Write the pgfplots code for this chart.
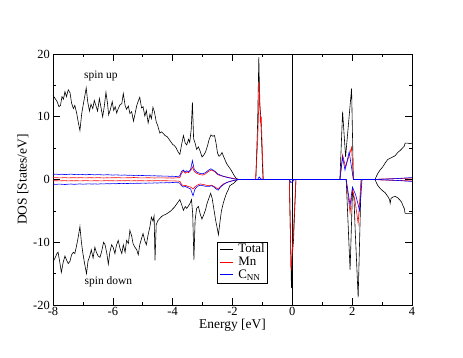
\documentclass[border=0pt]{standalone}
\usepackage{pgfplots}
\pgfplotsset{compat=1.18}
\usepackage{fontspec}
\setmainfont{Liberation Serif}

\begin{document}
\begin{tikzpicture}
\path[use as bounding box] (-53bp,-53bp) rectangle (410bp,305bp);
\begin{axis}[
    at={(0,0)}, anchor=south west,
    scale only axis,
    width=359bp, height=251bp,
    xmin=-8, xmax=4, ymin=-20, ymax=20,
    xtick={-8,-6,...,4}, ytick={-20,-10,...,20},
    minor xtick={-7,-5,...,3}, minor ytick={-15,-5,5,15},
    tick align=inside,
    major tick length=7bp, minor tick length=3.5bp,
    axis line style={line width=0.8pt},
    every tick/.style={black, line width=0.6pt},
    /pgf/number format/assume math mode=true,
    tick label style={font=\fontsize{12.5}{14}\selectfont},
    xticklabel style={inner xsep=1pt, inner ysep=0.5pt, yshift=-1.5pt},
    yticklabel style={inner sep=1pt, xshift=-2pt},
    xlabel={Energy [eV]},
    ylabel={DOS [States/eV]},
    label style={font=\fontsize{13.5}{15}\selectfont},
    xlabel style={at={(axis description cs:0.5,-0.08)}, anchor=center},
    ylabel style={at={(axis description cs:-0.084,0.5)}, anchor=center},
    every axis plot/.append style={line width=0.6pt},
    clip=true,
]
% Fermi level
\addplot[black] coordinates {(0,-20) (0,20)};

% Total, spin up
\addplot[black] coordinates {
(-8.00,13.4) (-7.93,12.9) (-7.87,12.5) (-7.80,11.6) (-7.75,11.8) (-7.70,13.2)
(-7.65,12.8) (-7.60,14.0) (-7.55,13.2) (-7.49,14.3) (-7.43,13.8) (-7.38,12.2)
(-7.32,11.3) (-7.27,11.8) (-7.21,10.6) (-7.15,9.0) (-7.10,7.8) (-7.04,10.5)
(-6.99,11.9) (-6.93,13.5) (-6.89,14.6) (-6.84,12.4) (-6.78,10.9) (-6.73,12.0)
(-6.67,11.3) (-6.62,12.6) (-6.56,11.7) (-6.51,10.9) (-6.45,12.9) (-6.40,11.6)
(-6.34,10.0) (-6.29,11.5) (-6.23,13.9) (-6.18,12.2) (-6.14,10.3) (-6.08,11.2)
(-6.02,12.4) (-5.97,11.0) (-5.92,11.6) (-5.87,10.6) (-5.82,11.3) (-5.76,11.9)
(-5.70,12.1) (-5.65,13.7) (-5.59,11.8) (-5.54,11.2) (-5.48,11.7) (-5.43,10.5)
(-5.37,10.8) (-5.31,9.3) (-5.26,10.4) (-5.20,11.8) (-5.15,12.5) (-5.10,13.1)
(-5.04,11.4) (-4.99,11.6) (-4.93,10.1) (-4.88,11.0) (-4.82,9.0) (-4.76,10.4)
(-4.71,9.7) (-4.66,11.5) (-4.61,10.8) (-4.55,9.2) (-4.50,8.6) (-4.43,7.4)
(-4.37,7.6) (-4.31,7.3) (-4.25,7.0) (-4.18,6.8) (-4.12,6.4) (-4.06,6.0)
(-4.00,5.6) (-3.94,5.4) (-3.88,5.0) (-3.82,4.4) (-3.76,4.0) (-3.70,5.6)
(-3.64,7.0) (-3.58,5.8) (-3.53,5.5) (-3.47,6.4) (-3.43,5.9) (-3.38,8.0)
(-3.34,12.3) (-3.30,6.5) (-3.25,5.8) (-3.20,4.8) (-3.14,5.2) (-3.08,4.5)
(-3.02,3.6) (-2.96,3.9) (-2.90,4.4) (-2.84,5.3) (-2.78,6.4) (-2.72,7.1)
(-2.66,6.9) (-2.60,7.0) (-2.55,5.8) (-2.50,4.2) (-2.45,3.7) (-2.40,3.9)
(-2.35,4.3) (-2.30,3.7) (-2.24,3.0) (-2.18,2.4) (-2.12,2.0) (-2.06,1.6)
(-2.00,1.1) (-1.94,0.6) (-1.88,0.2) (-1.82,0.05) (-1.76,0) (-1.22,0)
(-1.16,9.0) (-1.12,19.5) (-1.09,12.0) (-1.06,10.3) (-0.98,0) (1.59,0)
(1.68,10.8) (1.78,3.6) (1.98,14.5) (2.04,0) (2.76,0) (2.85,0.9)
(2.93,1.5) (3.02,2.0) (3.10,2.6) (3.19,3.2) (3.28,3.4) (3.36,3.6)
(3.44,3.8) (3.52,4.3) (3.60,4.6) (3.68,5.0) (3.74,5.3) (3.77,5.8)
(3.85,5.8) (3.93,5.7) (4.00,5.8)
};
% Total, spin down
\addplot[black] coordinates {
(-8.00,-13.1) (-7.93,-12.5) (-7.87,-11.8) (-7.83,-11.6) (-7.78,-13.0) (-7.72,-14.8)
(-7.66,-13.2) (-7.60,-12.2) (-7.55,-12.8) (-7.49,-13.4) (-7.43,-13.0) (-7.38,-12.0)
(-7.32,-11.6) (-7.27,-11.8) (-7.21,-10.5) (-7.15,-9.0) (-7.10,-7.5) (-7.05,-10.0)
(-7.00,-11.8) (-6.94,-13.5) (-6.88,-15.0) (-6.83,-13.0) (-6.77,-12.2) (-6.72,-11.2)
(-6.66,-12.5) (-6.60,-10.8) (-6.55,-11.6) (-6.49,-12.2) (-6.43,-12.4) (-6.37,-11.4)
(-6.31,-10.0) (-6.26,-10.4) (-6.20,-11.8) (-6.15,-13.5) (-6.10,-11.6) (-6.04,-10.4)
(-5.99,-10.8) (-5.93,-11.8) (-5.88,-10.5) (-5.82,-9.7) (-5.76,-11.0) (-5.70,-11.8)
(-5.65,-10.4) (-5.59,-11.6) (-5.54,-9.7) (-5.48,-10.2) (-5.43,-8.1) (-5.37,-9.0)
(-5.32,-10.3) (-5.26,-10.8) (-5.20,-11.2) (-5.15,-12.0) (-5.10,-10.4) (-5.04,-9.4)
(-4.99,-8.6) (-4.93,-9.8) (-4.88,-10.4) (-4.82,-8.8) (-4.76,-7.5) (-4.71,-6.0)
(-4.66,-6.6) (-4.62,-5.8) (-4.59,-12.9) (-4.55,-7.2) (-4.50,-6.6) (-4.43,-6.2)
(-4.37,-5.9) (-4.31,-5.7) (-4.25,-5.6) (-4.18,-5.4) (-4.12,-5.2) (-4.06,-5.0)
(-4.00,-4.7) (-3.94,-4.4) (-3.88,-4.0) (-3.82,-3.6) (-3.76,-3.2) (-3.70,-4.0)
(-3.64,-4.9) (-3.58,-4.3) (-3.53,-4.6) (-3.47,-4.2) (-3.42,-3.8) (-3.37,-3.2)
(-3.33,-5.5) (-3.29,-12.8) (-3.25,-6.5) (-3.20,-4.6) (-3.14,-4.3) (-3.08,-5.5)
(-3.02,-6.3) (-2.96,-5.6) (-2.90,-4.8) (-2.85,-3.8) (-2.79,-3.0) (-2.73,-2.2)
(-2.68,-3.0) (-2.62,-4.8) (-2.56,-6.6) (-2.51,-7.8) (-2.47,-8.8) (-2.42,-6.8)
(-2.37,-5.0) (-2.31,-3.8) (-2.26,-3.0) (-2.20,-2.2) (-2.14,-1.6) (-2.09,-1.0)
(-2.03,-0.8) (-1.96,-0.6) (-1.90,-0.3) (-1.84,-0.05) (-1.78,0) (-0.10,0)
(-0.03,-17.3) (0.00,-12.0) (0.04,-9.6) (0.12,0) (1.80,0) (1.93,-14.4)
(2.01,-2.0) (2.06,-3.0) (2.10,-8.0) (2.20,-18.8) (2.30,0) (2.76,0)
(2.85,-0.9) (2.93,-1.4) (3.02,-1.8) (3.10,-2.1) (3.19,-2.7) (3.25,-3.2)
(3.27,-3.8) (3.30,-3.0) (3.36,-2.8) (3.44,-2.7) (3.52,-2.9) (3.60,-3.3)
(3.65,-3.6) (3.70,-4.2) (3.74,-4.6) (3.77,-5.4) (3.85,-5.4) (4.00,-5.4)
};

% Mn, spin up
\addplot[red] coordinates {
(-8.0,0.28) (-7.9,0.30) (-7.8,0.26) (-7.7,0.27) (-7.6,0.31) (-7.5,0.25)
(-7.4,0.28) (-7.3,0.29) (-7.2,0.26) (-7.1,0.30) (-7.0,0.27) (-6.9,0.25)
(-6.8,0.29) (-6.7,0.28) (-6.6,0.26) (-6.5,0.30) (-6.4,0.27) (-6.3,0.24)
(-6.2,0.28) (-6.1,0.26) (-6.0,0.29) (-5.9,0.27) (-5.8,0.30) (-5.7,0.25)
(-5.6,0.26) (-5.5,0.28) (-5.4,0.27) (-5.3,0.32) (-5.2,0.29) (-5.1,0.26)
(-5.0,0.25) (-4.9,0.27) (-4.8,0.28) (-4.7,0.26) (-4.6,0.24) (-4.5,0.27)
(-4.4,0.25) (-4.3,0.26) (-4.2,0.24) (-4.1,0.25) (-4.0,0.23) (-3.9,0.26)
(-3.8,0.28) (-3.76,0.3) (-3.70,1.0) (-3.64,1.4) (-3.58,1.0) (-3.53,1.2)
(-3.47,1.1) (-3.40,1.4) (-3.34,2.0) (-3.28,1.3) (-3.20,1.0) (-3.10,0.8)
(-3.00,0.7) (-2.90,0.9) (-2.80,1.3) (-2.72,1.5) (-2.65,1.4) (-2.58,1.2)
(-2.50,0.8) (-2.40,0.6) (-2.30,0.5) (-2.20,0.4) (-2.10,0.3) (-2.00,0.2)
(-1.90,0.1) (-1.80,0) (-1.23,0) (-1.16,6.0) (-1.10,15.5) (-1.07,9.0)
(-1.04,10.0) (-0.97,0) (1.59,0) (1.68,3.9) (1.78,2.0) (1.98,5.1)
(2.04,0) (2.76,0) (3.0,0.08) (3.3,0.12) (3.6,0.15) (3.8,0.2) (4.0,0.22)
};
% Mn, spin down
\addplot[red] coordinates {
(-8.0,-0.21) (-7.9,-0.19) (-7.8,-0.22) (-7.7,-0.20) (-7.6,-0.18) (-7.5,-0.22)
(-7.4,-0.20) (-7.3,-0.21) (-7.2,-0.19) (-7.1,-0.23) (-7.0,-0.20) (-6.9,-0.18)
(-6.8,-0.21) (-6.7,-0.22) (-6.6,-0.19) (-6.5,-0.20) (-6.4,-0.23) (-6.3,-0.20)
(-6.2,-0.18) (-6.1,-0.21) (-6.0,-0.20) (-5.9,-0.22) (-5.8,-0.19) (-5.7,-0.21)
(-5.6,-0.20) (-5.5,-0.18) (-5.4,-0.22) (-5.3,-0.20) (-5.2,-0.21) (-5.1,-0.19)
(-5.0,-0.20) (-4.9,-0.22) (-4.8,-0.19) (-4.7,-0.21) (-4.6,-0.20) (-4.5,-0.18)
(-4.4,-0.21) (-4.3,-0.19) (-4.2,-0.20) (-4.1,-0.22) (-4.0,-0.21) (-3.9,-0.24)
(-3.8,-0.26) (-3.76,-0.3) (-3.70,-0.8) (-3.64,-1.0) (-3.58,-0.9) (-3.50,-1.1)
(-3.40,-1.2) (-3.32,-1.5) (-3.26,-1.2) (-3.18,-0.9) (-3.08,-0.7) (-2.98,-0.8)
(-2.88,-0.9) (-2.78,-1.0) (-2.70,-0.9) (-2.62,-1.1) (-2.55,-1.3) (-2.48,-1.5)
(-2.40,-1.1) (-2.30,-0.7) (-2.20,-0.5) (-2.10,-0.3) (-2.00,-0.2) (-1.90,-0.1)
(-1.80,0) (-0.10,0) (-0.04,-14.5) (0.03,-9.0) (0.12,0) (1.80,0)
(1.93,-5.3) (2.01,-1.5) (2.10,-3.5) (2.20,-7.0) (2.30,0) (2.76,0)
(3.0,-0.08) (3.3,-0.12) (3.6,-0.15) (3.8,-0.2) (4.0,-0.22)
};

% C_NN, spin up
\addplot[blue] coordinates {
(-8.0,0.82) (-7.9,0.85) (-7.8,0.80) (-7.7,0.84) (-7.6,0.78) (-7.5,0.82)
(-7.4,0.86) (-7.3,0.80) (-7.2,0.77) (-7.1,0.83) (-7.0,0.79) (-6.9,0.75)
(-6.8,0.80) (-6.7,0.78) (-6.6,0.74) (-6.5,0.79) (-6.4,0.76) (-6.3,0.72)
(-6.2,0.77) (-6.1,0.74) (-6.0,0.70) (-5.9,0.74) (-5.8,0.71) (-5.7,0.68)
(-5.6,0.72) (-5.5,0.66) (-5.4,0.69) (-5.3,0.64) (-5.2,0.67) (-5.1,0.62)
(-5.0,0.64) (-4.9,0.60) (-4.8,0.62) (-4.7,0.58) (-4.6,0.60) (-4.5,0.55)
(-4.4,0.57) (-4.3,0.53) (-4.2,0.55) (-4.1,0.50) (-4.0,0.52) (-3.9,0.48)
(-3.8,0.50) (-3.76,0.6) (-3.70,1.3) (-3.64,1.5) (-3.58,1.2) (-3.53,1.4)
(-3.47,1.2) (-3.40,1.6) (-3.34,3.0) (-3.28,1.6) (-3.20,1.2) (-3.10,1.0)
(-3.00,0.9) (-2.90,1.1) (-2.80,1.5) (-2.72,1.7) (-2.65,1.5) (-2.58,1.3)
(-2.50,0.9) (-2.40,0.7) (-2.30,0.5) (-2.20,0.35) (-2.10,0.25) (-2.00,0.15)
(-1.90,0.05) (-1.80,0) (-1.16,0) (-1.11,0.4) (-1.05,0.1) (-0.98,0)
(1.59,0) (1.68,3.6) (1.76,1.5) (1.90,4.4) (2.04,0) (2.76,0)
(3.0,0.05) (3.3,0.1) (3.6,0.18) (3.8,0.25) (4.0,0.3)
};
% C_NN, spin down
\addplot[blue] coordinates {
(-8.0,-0.74) (-7.9,-0.78) (-7.8,-0.73) (-7.7,-0.76) (-7.6,-0.80) (-7.5,-0.75)
(-7.4,-0.72) (-7.3,-0.77) (-7.2,-0.74) (-7.1,-0.70) (-7.0,-0.75) (-6.9,-0.72)
(-6.8,-0.69) (-6.7,-0.73) (-6.6,-0.70) (-6.5,-0.74) (-6.4,-0.68) (-6.3,-0.71)
(-6.2,-0.66) (-6.1,-0.69) (-6.0,-0.65) (-5.9,-0.68) (-5.8,-0.63) (-5.7,-0.66)
(-5.6,-0.62) (-5.5,-0.64) (-5.4,-0.60) (-5.3,-0.63) (-5.2,-0.59) (-5.1,-0.61)
(-5.0,-0.57) (-4.9,-0.60) (-4.8,-0.56) (-4.7,-0.58) (-4.6,-0.54) (-4.5,-0.56)
(-4.4,-0.52) (-4.3,-0.54) (-4.2,-0.50) (-4.1,-0.52) (-4.0,-0.48) (-3.9,-0.50)
(-3.8,-0.52) (-3.76,-0.6) (-3.70,-1.0) (-3.64,-1.2) (-3.58,-1.1) (-3.50,-1.3)
(-3.40,-1.5) (-3.32,-2.6) (-3.26,-1.6) (-3.18,-1.1) (-3.08,-0.9) (-2.98,-1.0)
(-2.88,-1.1) (-2.78,-1.1) (-2.70,-1.0) (-2.62,-1.2) (-2.55,-1.5) (-2.48,-1.7)
(-2.40,-1.2) (-2.30,-0.8) (-2.20,-0.5) (-2.10,-0.35) (-2.00,-0.2) (-1.90,-0.1)
(-1.80,0) (-0.10,0) (-0.05,-0.5) (0.02,-0.3) (0.08,0) (1.80,0)
(1.93,-4.1) (2.01,-1.2) (2.12,-2.5) (2.25,-5.0) (2.33,0) (2.76,0)
(3.0,-0.05) (3.3,-0.1) (3.6,-0.18) (3.8,-0.25) (4.0,-0.3)
};

% legend box
\node[draw=black, line width=0.5pt, fill=white, anchor=north west,
      inner xsep=3pt, inner ysep=1.5pt, font=\fontsize{13}{14}\selectfont]
  at (rel axis cs:0.457,0.251) {%
  \renewcommand{\arraystretch}{0.92}%
  \begin{tabular}{@{}l@{\hspace{5pt}}l@{}}
  {\color{black}\rule[0.55ex]{13bp}{0.7pt}} & Total\\
  {\color{red}\rule[0.55ex]{13bp}{0.7pt}} & Mn\\
  {\color{blue}\rule[0.55ex]{13bp}{0.7pt}} & C\textsubscript{NN}
  \end{tabular}};

\node[font=\fontsize{11.5}{13}\selectfont] at (axis cs:-6.4,16.5) {spin up};
\node[font=\fontsize{11.5}{13}\selectfont] at (axis cs:-6.15,-16.3) {spin down};
\end{axis}
\end{tikzpicture}
\end{document}
